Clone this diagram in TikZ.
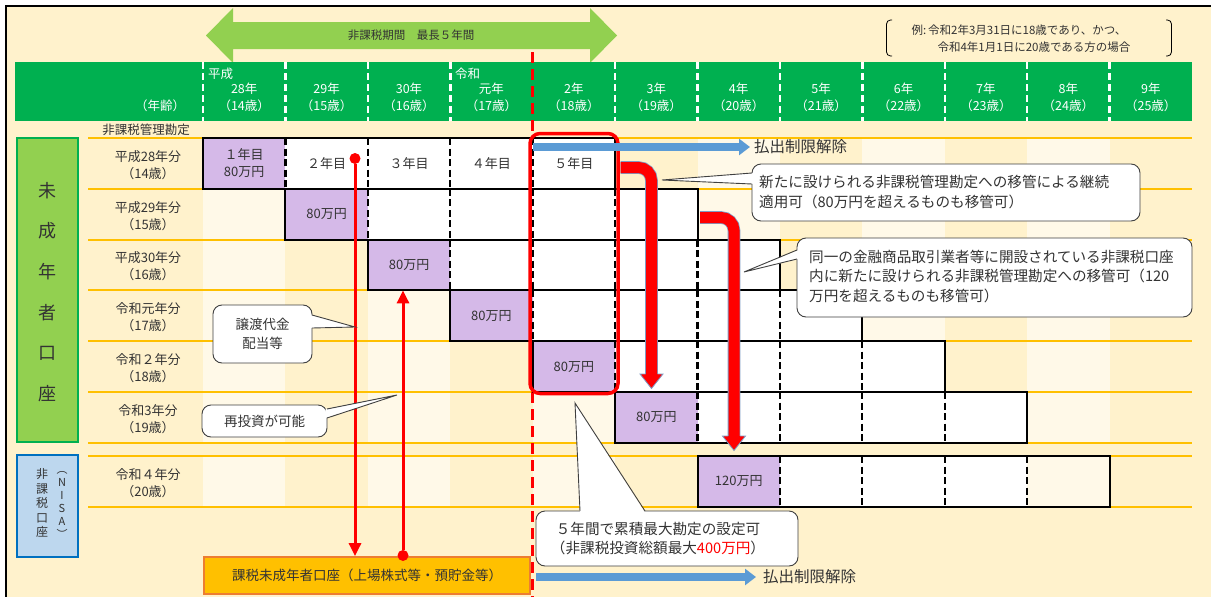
\documentclass[tikz,border=0pt]{standalone}
\usepackage{fontspec}
\setmainfont{Noto Sans CJK JP}
\usetikzlibrary{arrows.meta}
\definecolor{cream}{HTML}{FFF2CC}
\definecolor{creamlt}{HTML}{FFF9E8}
\definecolor{hdrgreen}{HTML}{00B050}
\definecolor{ltgreen}{HTML}{92D050}
\definecolor{purp}{HTML}{D5B9E8}
\definecolor{rowline}{HTML}{FFC000}
\definecolor{nisafill}{HTML}{BDD7EE}
\definecolor{nisaline}{HTML}{0070C0}
\definecolor{arrblue}{HTML}{5B9BD5}
\definecolor{boxorange}{HTML}{FFC000}
\definecolor{boxorline}{HTML}{ED7D31}
\definecolor{txtc}{HTML}{333333}
\definecolor{calline}{HTML}{404040}
\definecolor{arrline}{HTML}{7F9CC4}
\definecolor{myred}{HTML}{FF0000}
\begin{document}
\begin{tikzpicture}[x=1pt,y=-1pt,
  txt/.style={text=txtc, inner sep=0pt},
  hdrtxt/.style={text=white, inner sep=0pt, font=\fontsize{12.5}{15}\selectfont},
  rowlab/.style={text=txtc, inner sep=0pt, align=center, font=\fontsize{13}{17}\selectfont},
  cellbox/.style={minimum width=82.4167pt, minimum height=50.8pt, inner sep=0pt, outer sep=0pt, align=center, text=txtc, font=\fontsize{13}{17}\selectfont},
  celldash/.style={black, line width=2.2pt, dash pattern=on 7pt off 3.5pt},
  callbox/.style={draw=calline, fill=white, line width=0.9pt, rounded corners=9pt, inner sep=0pt, text=txtc},
  callfont/.style={font=\fontsize{14.6}{19.4}\selectfont},
  bluearr/.style={arrblue, line width=8pt, -{Triangle[length=11pt,width=16pt]}},
  reltxt/.style={text=txtc, inner sep=0pt, font=\fontsize{15.5}{18}\selectfont},
  thinarr/.style={myred, line width=3pt, -{Triangle[length=13pt,width=12pt]}},
  reddot/.style={circle, fill=myred, inner sep=0pt, minimum size=11pt}
]
\useasboundingbox (0,0) rectangle (1211,597);
\fill[white] (0,0) rectangle (1211,597);
\fill[cream] (6,6) rectangle (1211,597);
% column stripes
\foreach \i in {1,3,5,7,9,11} {
  \fill[creamlt] ({203+(\i-1)*82.4167},138) rectangle ({203+\i*82.4167},442.8);
  \fill[creamlt] ({203+(\i-1)*82.4167},456) rectangle ({203+\i*82.4167},506.8);
}
% row lines
\foreach \yy in {138,188.8,239.6,290.4,341.2,392,442.8,456,506.8}
  \draw[rowline, line width=2pt] (88,\yy) -- (1192,\yy);
% frame
\draw[black, line width=2.2pt] (6,597) -- (6,6) -- (1211,6);
% period arrow
\fill[ltgreen] (206,35.5) -- (233,8) -- (233,22) -- (590,22) -- (590,8) -- (617,35.5) -- (590,63) -- (590,49) -- (233,49) -- (233,63) -- cycle;
\node[txt, font=\fontsize{11.5}{14}\selectfont] (period) at (411,35.5) {非課税期間　最長５年間};
% example note
\draw[black, line width=0.8pt, rounded corners=4pt] (892,20) -- (886.5,20) -- (886.5,56) -- (892,56);
\draw[black, line width=0.8pt, rounded corners=4pt] (1166,20) -- (1171.5,20) -- (1171.5,56) -- (1166,56);
\node[txt, font=\fontsize{11.5}{14}\selectfont] (ex1) at (1019,30) {例:\,令和2年3月31日に18歳であり、かつ、};
\node[txt, font=\fontsize{11.5}{14}\selectfont] (ex2) at (1034,47.5) {令和4年1月1日に20歳である方の場合};
% header band
\fill[hdrgreen] (15,62) rectangle (1192,121);
\foreach \k in {0,1,2,3,5,6,7,8,9,10,11}
  \draw[white, line width=2.5pt, dash pattern=on 7pt off 4pt] ({203+\k*82.4167},62) -- ({203+\k*82.4167},121);
\foreach \i/\yr/\ag in {1/28年/14, 2/29年/15, 3/30年/16, 4/元年/17, 5/2年/18, 6/3年/19, 7/4年/20, 8/5年/21, 9/6年/22, 10/7年/23, 11/8年/24, 12/9年/25} {
  \node[hdrtxt] (yr\i) at ({203+(\i-0.5)*82.4167},89) {\yr};
  \node[hdrtxt] (ag\i) at ({203+(\i-0.5)*82.4167},106) {（\ag 歳）};
}
\node[hdrtxt, anchor=west] (heisei) at (208,74) {平成};
\node[hdrtxt, anchor=west] (reiwa) at (455,74) {令和};
\node[hdrtxt] (nenrei) at (160,106) {（年齢）};
\node[txt, font=\fontsize{12.5}{15}\selectfont] (kanri) at (146,130) {非課税管理勘定};
% left boxes
\node[draw=hdrgreen, fill=ltgreen, line width=2.2pt, minimum width=61pt, minimum height=304pt, inner sep=0pt] (minor) at (47.5,290) {};
\node[txt, align=center, font=\fontsize{18}{40.6}\selectfont] (minortxt) at (47.5,292) {未\\成\\年\\者\\口\\座};
\node[draw=nisaline, fill=nisafill, line width=2.2pt, minimum width=61pt, minimum height=102pt, inner sep=0pt] (nisa) at (47.5,506) {};
\node[txt, align=center, font=\fontsize{12}{14.5}\selectfont] (nisa1) at (42,503) {非\\課\\税\\口\\座};
\node[txt, align=center, font=\fontsize{11}{13}\selectfont] (nisa2) at (62,505) {︵\\N\\I\\S\\A\\︶};
% row labels
\foreach \ri/\la/\lb in {1/平成28年分/14, 2/平成29年分/15, 3/平成30年分/16, 4/令和元年分/17, 5/令和２年分/18, 6/令和3年分/19}
  \node[rowlab] (rl\ri) at (148,{138+(\ri-0.5)*50.8+1.5}) {\la\\（\lb 歳）};
\node[rowlab] (rl7) at (148,483) {令和４年分\\（20歳）};
% taxable account box
\node[draw=boxorline, fill=boxorange, line width=1.8pt, minimum width=326pt, minimum height=37pt, inner sep=0pt, text=txtc, font=\fontsize{13.5}{16}\selectfont] (ob) at (367,575.5) {課税未成年者口座（上場株式等・預貯金等）};
% red dashed boundary
\draw[myred, line width=3pt, dash pattern=on 11pt off 6pt] (532,52) -- (532,597);
% cells
\foreach \ri/\rt/\rc in {1/138/1, 2/188.8/2, 3/239.6/3, 4/290.4/4, 5/341.2/5, 6/392/6, 7/456/7}
  \foreach \k in {1,...,4}
    \node[cellbox, fill=white] (c\ri-\k) at ({203+(\rc+\k-0.5)*82.4167},{\rt+25.4}) {};
\fill[creamlt] (c7-4.north west) rectangle (c7-4.south east);
\node[cellbox, fill=purp] (p1) at (244.21,163.4) {１年目\\80万円};
\node[cellbox, fill=purp] (p2) at (326.63,214.2) {80万円};
\node[cellbox, fill=purp] (p3) at (409.04,265.0) {80万円};
\node[cellbox, fill=purp] (p4) at (491.46,315.8) {80万円};
\node[cellbox, fill=purp] (p5) at (573.88,366.6) {80万円};
\node[cellbox, fill=purp] (p6) at (656.29,417.4) {80万円};
\node[cellbox, fill=purp] (p7) at (738.71,481.4) {120万円};
\node[cellbox] (t1-1) at (c1-1) {２年目};
\node[cellbox] (t1-2) at (c1-2) {３年目};
\node[cellbox] (t1-3) at (c1-3) {４年目};
\node[cellbox] (t1-4) at (c1-4) {５年目};
\foreach \ri in {1,...,7} {
  \foreach \k in {1,...,4}
    \draw[celldash] (c\ri-\k.north west) -- (c\ri-\k.south west);
  \draw[black, line width=2pt] (p\ri.north west) rectangle (c\ri-4.south east);
}
% five-year frame
\node[draw=myred, line width=3.5pt, rounded corners=10pt, minimum width=88pt, minimum height=260pt, inner sep=0pt] (sel) at (574,263.5) {};
% release arrows
\coordinate (b1) at (533,147);
\node[reltxt, anchor=west] (rel1) at (754,147) {払出制限解除};
\draw[bluearr, shorten >=4pt] (b1) -- (rel1.west);
\coordinate (b2) at (536,577);
\node[reltxt, anchor=west] (rel2) at (763,577) {払出制限解除};
\draw[bluearr, shorten >=7pt] (b2) -- (rel2.west);
% thick bent arrows
\draw[arrline, line width=12.6pt, rounded corners=13pt] (620.5,167.5) -- (651.5,167.5) -- (651.5,376);
\draw[myred, line width=11pt, rounded corners=13pt] (620.5,167.5) -- (651.5,167.5) -- (651.5,376);
\fill[myred] (640,374) -- (663,374) -- (651.5,388.5) -- cycle;
\draw[arrline, line width=0.8pt] (645.5,374) -- (640,374) -- (651.5,388.5) -- (663,374) -- (657.5,374);
\draw[arrline, line width=12.6pt, rounded corners=13pt] (700,217.5) -- (734,217.5) -- (734,438);
\draw[myred, line width=11pt, rounded corners=13pt] (700,217.5) -- (734,217.5) -- (734,438);
\fill[myred] (722.5,436) -- (745.5,436) -- (734,450.5) -- cycle;
\draw[arrline, line width=0.8pt] (728,436) -- (722.5,436) -- (734,450.5) -- (745.5,436) -- (740,436);
% thin arrows
\node[reddot] (dotA) at (355,158.5) {};
\draw[thinarr] (dotA) -- (dotA |- ob.north);
\node[reddot] (dotB) at (403,555.5) {};
\draw[thinarr] (dotB) -- (dotB |- p3.south);
% callouts
\node[callbox, minimum width=99pt, minimum height=58pt, align=center, font=\fontsize{13.5}{19}\selectfont] (cl1) at (262.5,334) {譲渡代金\\配当等};
\fill[white] (310.5,315) -- (355,327) -- (310.5,328) -- cycle;
\draw[calline, line width=0.9pt] (312,315) -- (355,327) -- (312,328);
\node[callbox, minimum width=125pt, minimum height=32pt, font=\fontsize{13.5}{17}\selectfont] (cl2) at (264.5,421) {再投資が可能};
\fill[white] (325.5,409) -- (397,395) -- (325.5,418) -- cycle;
\draw[calline, line width=0.9pt] (327,409) -- (397,395) -- (327,418);
\node[callbox, minimum width=388pt, minimum height=57pt] (cl3) at (946,192.5) {};
\fill[white] (753.5,173) -- (662,180) -- (753.5,184) -- cycle;
\draw[calline, line width=0.9pt] (752,173) -- (662,180) -- (752,184);
\node[txt, anchor=west, align=left, callfont] (cl3t) at (759,192) {新たに設けられる非課税管理勘定への移管による継続\\適用可（80万円を超えるものも移管可）};
\node[callbox, minimum width=395pt, minimum height=79pt] (cl4) at (994.5,277.5) {};
\fill[white] (798.5,250) -- (744,272) -- (798.5,259) -- cycle;
\draw[calline, line width=0.9pt] (797,250) -- (744,272) -- (797,259);
\node[txt, anchor=west, align=left, callfont] (cl4t) at (809,276.5) {同一の金融商品取引業者等に開設されている非課税口座\\内に新たに設けられる非課税管理勘定への移管可（120\\万円を超えるものも移管可）};
\node[callbox, minimum width=262pt, minimum height=55pt] (cl5) at (667,538.5) {};
\fill[white] (580,512.5) -- (575,403) -- (645,512.5) -- cycle;
\draw[calline, line width=0.9pt] (580,511) -- (575,403) -- (645,511);
\node[txt, align=center, callfont] (cl5t) at (658,538.5) {５年間で累積最大勘定の設定可\\（非課税投資総額最大{\color{myred}400万円}）};
\end{tikzpicture}
\end{document}
